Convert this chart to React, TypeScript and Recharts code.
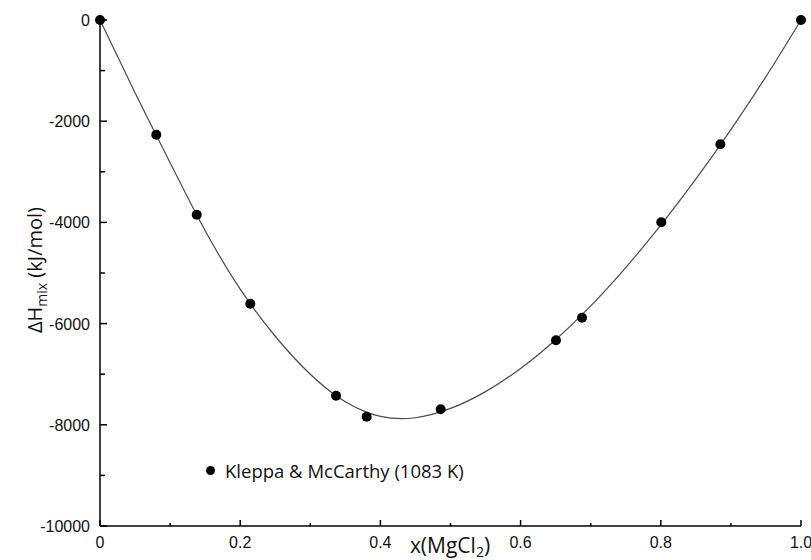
import { ComposedChart, Line, Scatter, XAxis, YAxis, Legend } from 'recharts'

// Kleppa & McCarthy calorimetry points, 1083 K
const measX = [0, 0.0803, 0.138, 0.2144, 0.3367, 0.3804, 0.486, 0.6505, 0.6876, 0.8007, 0.885, 1.0]
const measH = [0, -2267, -3848, -5607, -7425, -7840, -7694, -6330, -5883, -3998, -2457, 0]

// assessed enthalpy of mixing curve
const fitX = [0, 0.05, 0.1, 0.15, 0.2, 0.25, 0.3, 0.3367, 0.35, 0.38, 0.4, 0.43, 0.45, 0.5, 0.55, 0.6, 0.65, 0.7, 0.75, 0.8, 0.85, 0.9, 0.95, 1.0]
const fitH = [0, -1440, -2820, -4165, -5320, -6250, -7000, -7425, -7546, -7749, -7832, -7879, -7861, -7676, -7344, -6886, -6318, -5650, -4892, -4054, -3146, -2168, -1120, 0]

const xTicks = [0, 0.1, 0.2, 0.3, 0.4, 0.5, 0.6, 0.7, 0.8, 0.9, 1.0]
const xTickLabels = ['0', '', '0.2', '', '0.4', '', '0.6', '', '0.8', '', '1.0']
const yTicks = [-10000, -9000, -8000, -7000, -6000, -5000, -4000, -3000, -2000, -1000, 0]
const yTickLabels = ['-10000', '', '-8000', '', '-6000', '', '-4000', '', '-2000', '', '0']

const points = measX.map((x, i) => ({ x, y: measH[i] }))
const curve = fitX.map((x, i) => ({ x, y: fitH[i] }))

const numFont = '"Liberation Sans", Arial, sans-serif'
const textFont = '"Open Sans", sans-serif'

const BottomTick = (props: any) => {
  const { x, y, index } = props
  const label = xTickLabels[index]
  return (
    <g>
      <line x1={x} x2={x} y1={y} y2={y - (label ? 6 : 3)} stroke="#000" strokeWidth={1.5} />
      {label && (
        <text x={x} y={y + 22} textAnchor="middle" fontFamily={numFont} fontSize={16} fill="#111">
          {label}
        </text>
      )}
    </g>
  )
}

const TopTick = (props: any) => {
  const { x, y } = props
  return <line x1={x} x2={x} y1={y} y2={y + 5} stroke="#000" strokeWidth={1.5} />
}

const LeftTick = (props: any) => {
  const { x, y, index } = props
  const label = yTickLabels[index]
  return (
    <g>
      <line x1={x} x2={x + (label ? 7 : 5)} y1={y} y2={y} stroke="#000" strokeWidth={1.5} />
      {label && (
        <text x={x - 10} y={y + 6} textAnchor="end" fontFamily={numFont} fontSize={16} fill="#111">
          {label}
        </text>
      )}
    </g>
  )
}

const RightTick = (props: any) => {
  const { x, y } = props
  return <line x1={x} x2={x - 7} y1={y} y2={y} stroke="#000" strokeWidth={1.5} />
}

const XTitle = () => (
  <text x={450} y={553} textAnchor="middle" fontFamily={textFont} fontSize={21} fill="#111">
    x(MgCl<tspan fontSize={14} dy={4}>2</tspan><tspan dy={-4}>)</tspan>
  </text>
)

const YTitle = () => (
  <text
    x={0}
    y={0}
    transform="translate(42, 270) rotate(-90)"
    textAnchor="middle"
    fontFamily={textFont}
    fontSize={20}
    fill="#111"
  >
    ΔH<tspan fontSize={14} dy={5}>mix</tspan><tspan dy={-5}> (kJ/mol)</tspan>
  </text>
)

const LegendBox = () => (
  <div style={{ display: 'flex', alignItems: 'center', fontFamily: textFont, fontSize: 18.5, color: '#111' }}>
    <span style={{ width: 9, height: 9, borderRadius: '50%', background: '#000', marginRight: 10 }} />
    Kleppa &amp; McCarthy (1083 K)
  </div>
)

export default function App() {
  return (
    <div style={{ position: 'absolute', left: 0, top: 0, width: 811, height: 560, background: '#fff' }}>
      <ComposedChart width={811} height={560} margin={{ top: 20, right: 10, bottom: 4, left: 40 }}>
        <XAxis
          xAxisId="b"
          dataKey="x"
          type="number"
          domain={[0, 1]}
          ticks={xTicks}
          interval={0}
          height={30}
          tickSize={0}
          tickMargin={0}
          tickLine={false}
          axisLine={{ stroke: '#000', strokeWidth: 1.5 }}
          tick={<BottomTick />}
          label={<XTitle />}
        />
        <XAxis
          xAxisId="t"
          orientation="top"
          type="number"
          domain={[0, 1]}
          ticks={xTicks}
          interval={0}
          height={0}
          tickSize={0}
          tickMargin={0}
          tickLine={false}
          axisLine={{ stroke: '#000', strokeWidth: 1.5 }}
          tick={<TopTick />}
        />
        <YAxis
          yAxisId="l"
          dataKey="y"
          type="number"
          domain={[-10000, 0]}
          ticks={yTicks}
          interval={0}
          width={60}
          tickSize={0}
          tickMargin={0}
          tickLine={false}
          axisLine={{ stroke: '#000', strokeWidth: 1.5 }}
          tick={<LeftTick />}
          label={<YTitle />}
        />
        <YAxis
          yAxisId="r"
          orientation="right"
          type="number"
          domain={[-10000, 0]}
          ticks={yTicks}
          interval={0}
          width={0}
          tickSize={0}
          tickMargin={0}
          tickLine={false}
          axisLine={{ stroke: '#000', strokeWidth: 1.5 }}
          tick={<RightTick />}
        />
        <Legend
          layout="vertical"
          align="center"
          verticalAlign="middle"
          wrapperStyle={{ left: 206, top: 458, width: 300 }}
          content={<LegendBox />}
        />
        <Line
          xAxisId="b"
          yAxisId="l"
          data={curve}
          dataKey="y"
          type="monotone"
          stroke="#4a4a4a"
          strokeWidth={1.2}
          dot={false}
          activeDot={false}
          legendType="none"
          isAnimationActive={false}
        />
        <Scatter
          xAxisId="b"
          yAxisId="l"
          data={points}
          dataKey="y"
          fill="#000"
          shape={(p: any) => <circle cx={p.cx} cy={p.cy} r={5} fill="#000" />}
          isAnimationActive={false}
        />
      </ComposedChart>
    </div>
  )
}
